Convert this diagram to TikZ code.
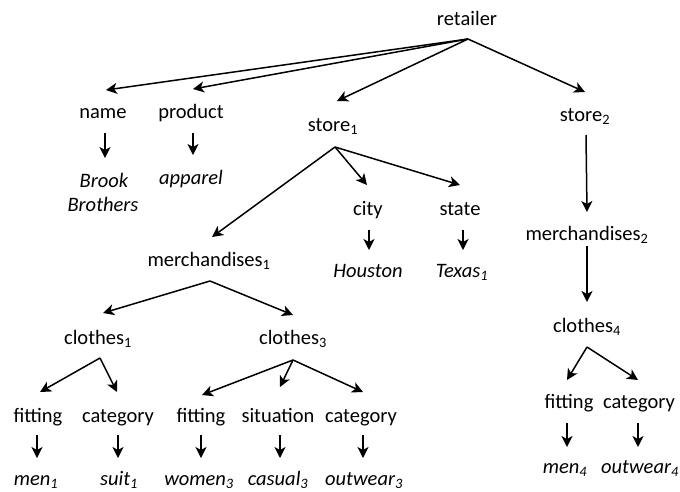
\documentclass[tikz,border=0pt]{standalone}
\usepackage{fontspec}
\setmainfont{Carlito}
\usetikzlibrary{calc,arrows.meta}
\begin{document}
\begin{tikzpicture}[x=1pt,y=-1pt,
  lbl/.style={font=\fontsize{20.5}{24}\selectfont, inner sep=0pt, anchor=base},
  leaf/.style={lbl, font=\fontsize{20.5}{24}\selectfont\itshape},
  arr/.style={line width=1.5pt, -{Stealth[length=11pt,width=11pt,inset=3pt]}}]
\useasboundingbox (0,0) rectangle (680,491);

% labels
\node[lbl] (retailer) at (467,25) {retailer};
\node[lbl] (name) at (103,118) {name};
\node[lbl] (product) at (191,118) {product};
\node[lbl] (store1) at (333,131) {store\textsubscript{1}};
\node[lbl] (store2) at (585,121) {store\textsubscript{2}};
\node[leaf] (brook) at (104,187) {Brook};
\node[leaf] (brothers) at (103,211) {Brothers};
\node[leaf] (apparel) at (191,184) {apparel};
\node[lbl] (city) at (368,215) {city};
\node[lbl] (state) at (460,215) {state};
\node[leaf] (houston) at (368,277) {Houston};
\node[leaf] (texas) at (462,277) {Texas\textsubscript{1}};
\node[lbl] (merch2) at (587,240) {merchandises\textsubscript{2}};
\node[lbl] (merch1) at (209,266) {merchandises\textsubscript{1}};
\node[lbl] (clothes1) at (98,344) {clothes\textsubscript{1}};
\node[lbl] (clothes3) at (293,344) {clothes\textsubscript{3}};
\node[lbl] (clothes4) at (587,332) {clothes\textsubscript{4}};
\node[lbl] (fit1) at (38,422) {fitting};
\node[lbl] (cat1) at (118,422) {category};
\node[lbl] (fit3) at (201,422) {fitting};
\node[lbl] (sit3) at (278,422) {situation};
\node[lbl] (cat3) at (361,422) {category};
\node[lbl] (fit4) at (569,408) {fitting};
\node[lbl] (cat4) at (639,408) {category};
\node[leaf] (men1) at (36,485) {men\textsubscript{1}};
\node[leaf] (suit1) at (119,485) {suit\textsubscript{1}};
\node[leaf] (women3) at (199,485) {women\textsubscript{3}};
\node[leaf] (casual3) at (278,485) {casual\textsubscript{3}};
\node[leaf] (outwear3) at (364,485) {outwear\textsubscript{3}};
\node[leaf] (men4) at (565,473) {men\textsubscript{4}};
\node[leaf] (outwear4) at (640,473) {outwear\textsubscript{4}};

% retailer fan
\draw[arr] ($(retailer.base)+(1,14)$) -- ($(name.base)+(3,-28)$);
\draw[arr] ($(retailer.base)+(1,14)$) -- ($(product.base)+(2,-29)$);
\draw[arr] ($(retailer.base)+(1,14)$) -- ($(store1.base)+(4,-30)$);
\draw[arr] ($(retailer.base)+(1,14)$) -- ($(store2.base)+(0,-29)$);

% store1 fan
\draw[arr] ($(store1.base)+(2,16)$) -- ($(merch1.base)+(3,-29)$);
\draw[arr] ($(store1.base)+(2,16)$) -- ($(city.base)+(-1,-30)$);
\draw[arr] ($(store1.base)+(2,16)$) -- ($(state.base)+(0,-30)$);

% store2 chain
\draw[arr] ($(store2.base)+(1,14)$) -- ($(merch2.base)+(0,-28)$);
\draw[arr] ($(merch2.base)+(0,6)$) -- ($(clothes4.base)+(0,-30)$);

% clothes4 fan
\draw[arr] ($(clothes4.base)+(0,15)$) -- ($(fit4.base)+(-2,-28)$);
\draw[arr] ($(clothes4.base)+(0,15)$) -- ($(cat4.base)+(-1,-28)$);

% merchandises1 fan
\draw[arr] ($(merch1.base)+(1,15)$) -- ($(clothes1.base)+(5,-31)$);
\draw[arr] ($(merch1.base)+(1,15)$) -- ($(clothes3.base)+(0,-29)$);

% clothes1 fan
\draw[arr] ($(clothes1.base)+(2,14)$) -- ($(fit1.base)+(2,-30)$);
\draw[arr] ($(clothes1.base)+(2,14)$) -- ($(cat1.base)+(-1,-30)$);

% clothes3 fan
\draw[arr] ($(clothes3.base)+(0,16)$) -- ($(fit3.base)+(1,-27)$);
\draw[arr] ($(clothes3.base)+(0,16)$) -- ($(sit3.base)+(2,-35)$);
\draw[arr] ($(clothes3.base)+(0,16)$) -- ($(cat3.base)+(2,-30)$);

% values
\draw[arr] ($(name.base)+(2,15)$) -- ($(brook.base)+(1,-29)$);
\draw[arr] ($(product.base)+(2,15)$) -- ($(apparel.base)+(2,-29)$);
\draw[arr] ($(city.base)+(1,15)$) -- ($(houston.base)+(1,-27)$);
\draw[arr] ($(state.base)+(3,15)$) -- ($(texas.base)+(1,-27)$);
\draw[arr] ($(fit1.base)+(-1,13)$) -- ($(men1.base)+(1,-27)$);
\draw[arr] ($(cat1.base)+(0,13)$) -- ($(suit1.base)+(-1,-27)$);
\draw[arr] ($(fit3.base)+(0,13)$) -- ($(women3.base)+(2,-27)$);
\draw[arr] ($(sit3.base)+(2,13)$) -- ($(casual3.base)+(2,-27)$);
\draw[arr] ($(cat3.base)+(2,13)$) -- ($(outwear3.base)+(-1,-27)$);
\draw[arr] ($(fit4.base)+(-2,15)$) -- ($(men4.base)+(2,-26)$);
\draw[arr] ($(cat4.base)+(-1,15)$) -- ($(outwear4.base)+(-2,-26)$);
\end{tikzpicture}
\end{document}
